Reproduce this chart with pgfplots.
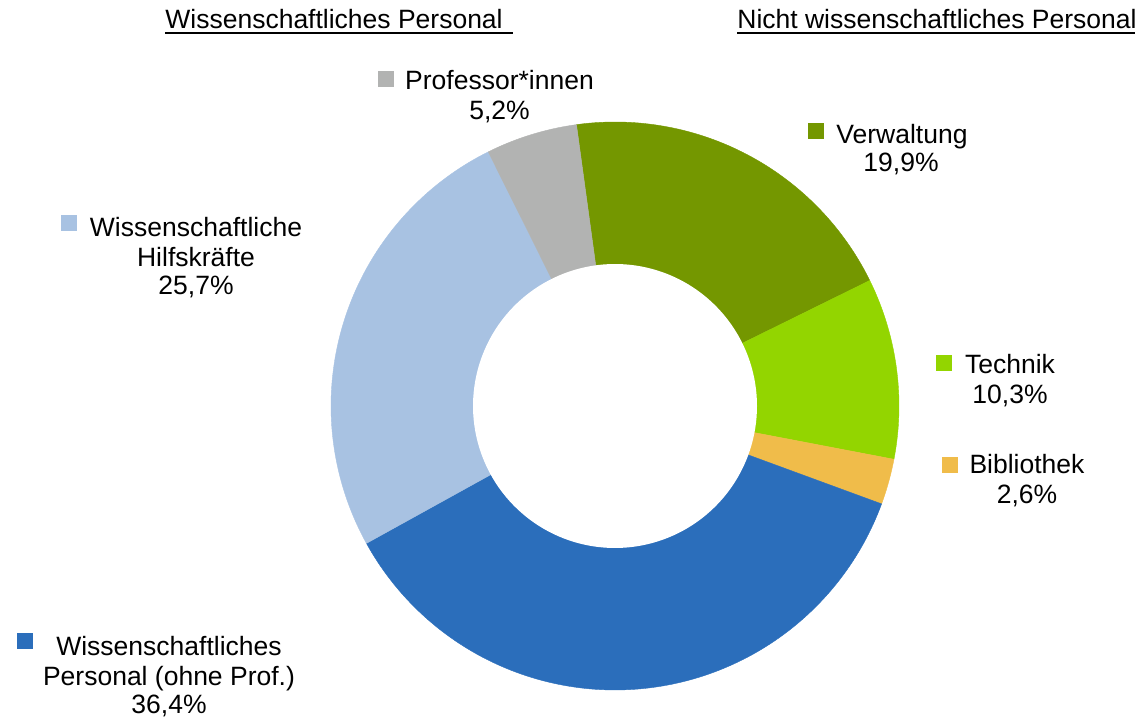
\documentclass[border=0pt]{standalone}
\usepackage{pgfplots}
\pgfplotsset{compat=1.18}
\usepackage{fontspec}
\setmainfont{Liberation Sans}
\definecolor{cVerw}{HTML}{749700}
\definecolor{cTech}{HTML}{93D500}
\definecolor{cBib}{HTML}{F0BC4A}
\definecolor{cWiss}{HTML}{2B6EBB}
\definecolor{cHilf}{HTML}{A8C2E2}
\definecolor{cProf}{HTML}{B2B3B2}
% shares in percent (clockwise from the top)
\def\vVerw{19.9}
\def\vTech{10.3}
\def\vBib{2.6}
\def\vWiss{36.4}
\def\vHilf{25.7}
\def\vProf{5.2}
\pgfmathsetmacro\k{360/(\vVerw+\vTech+\vBib+\vWiss+\vHilf+\vProf)}
\pgfmathsetmacro\aA{97.8}
\pgfmathsetmacro\aB{\aA-\vVerw*\k}
\pgfmathsetmacro\aC{\aB-\vTech*\k}
\pgfmathsetmacro\aD{\aC-\vBib*\k}
\pgfmathsetmacro\aE{\aD-\vWiss*\k}
\pgfmathsetmacro\aF{\aE-\vHilf*\k}
\pgfmathsetmacro\aG{\aF-\vProf*\k}
\def\cx{615}
\def\cy{311}
\def\R{284}
\def\r{142}
\begin{document}
\fontsize{13.25bp}{15bp}\selectfont
\begin{tikzpicture}[font=\fontsize{13.25bp}{15bp}\selectfont]
\begin{axis}[
  width=570bp, height=358.5bp, scale only axis,
  xmin=0, xmax=1140, ymin=0, ymax=717,
  hide axis, clip=false,
]
\path (axis cs:0,0) rectangle (axis cs:1140,717);
% donut wedges
\addplot[fill=cVerw, draw=cVerw, line width=0.2pt, domain=\aB:\aA, samples=80, variable=\t] ({\cx+\R*cos(\t)},{\cy+\R*sin(\t)}) -- (axis cs:\cx,\cy) -- cycle;
\addplot[fill=cTech, draw=cTech, line width=0.2pt, domain=\aC:\aB, samples=50, variable=\t] ({\cx+\R*cos(\t)},{\cy+\R*sin(\t)}) -- (axis cs:\cx,\cy) -- cycle;
\addplot[fill=cBib, draw=cBib, line width=0.2pt, domain=\aD:\aC, samples=20, variable=\t] ({\cx+\R*cos(\t)},{\cy+\R*sin(\t)}) -- (axis cs:\cx,\cy) -- cycle;
\addplot[fill=cWiss, draw=cWiss, line width=0.2pt, domain=\aE:\aD, samples=120, variable=\t] ({\cx+\R*cos(\t)},{\cy+\R*sin(\t)}) -- (axis cs:\cx,\cy) -- cycle;
\addplot[fill=cHilf, draw=cHilf, line width=0.2pt, domain=\aF:\aE, samples=90, variable=\t] ({\cx+\R*cos(\t)},{\cy+\R*sin(\t)}) -- (axis cs:\cx,\cy) -- cycle;
\addplot[fill=cProf, draw=cProf, line width=0.2pt, domain=\aG:\aF, samples=30, variable=\t] ({\cx+\R*cos(\t)},{\cy+\R*sin(\t)}) -- (axis cs:\cx,\cy) -- cycle;
% hole
\addplot[fill=white, draw=none, domain=0:360, samples=160, variable=\t] ({\cx+\r*cos(\t)},{\cy+\r*sin(\t)}) -- cycle;
% legend keys
\addplot[only marks, mark=square*, mark size=3.6bp, color=cProf] coordinates {(386,638)};
\addplot[only marks, mark=square*, mark size=3.6bp, color=cVerw] coordinates {(816,586)};
\addplot[only marks, mark=square*, mark size=3.6bp, color=cHilf] coordinates {(69,494)};
\addplot[only marks, mark=square*, mark size=3.6bp, color=cTech] coordinates {(944,354)};
\addplot[only marks, mark=square*, mark size=3.6bp, color=cBib] coordinates {(950,252)};
\addplot[only marks, mark=square*, mark size=3.6bp, color=cWiss] coordinates {(25,76)};
% labels
\begin{scope}[every node/.style={inner sep=0pt, anchor=base, font=\fontsize{13.25bp}{15bp}\selectfont}]
\node at (axis cs:499.5,627) {Professor*innen};
\node at (axis cs:499.5,597) {5,2\%};
\node at (axis cs:902,573) {Verwaltung};
\node at (axis cs:901,545) {19,9\%};
\node at (axis cs:196,480) {Wissenschaftliche};
\node at (axis cs:196,450) {Hilfskräfte};
\node at (axis cs:196,422) {25,7\%};
\node at (axis cs:1010,343) {Technik};
\node at (axis cs:1010,313) {10,3\%};
\node at (axis cs:1027,243) {Bibliothek};
\node at (axis cs:1027,213) {2,6\%};
\node at (axis cs:169,62) {Wissenschaftliches};
\node at (axis cs:169,32) {Personal (ohne Prof.)};
\node at (axis cs:169,4) {36,4\%};
% headers
\node[anchor=base west] at (axis cs:165,688) {Wissenschaftliches Personal};
\node[anchor=base west] at (axis cs:737,688) {Nicht wissenschaftliches Personal};
\end{scope}
\draw[line width=1bp] (axis cs:165,683.5) -- (axis cs:513,683.5);
\draw[line width=1bp] (axis cs:737,683.5) -- (axis cs:1135,683.5);
\end{axis}
\end{tikzpicture}
\end{document}
